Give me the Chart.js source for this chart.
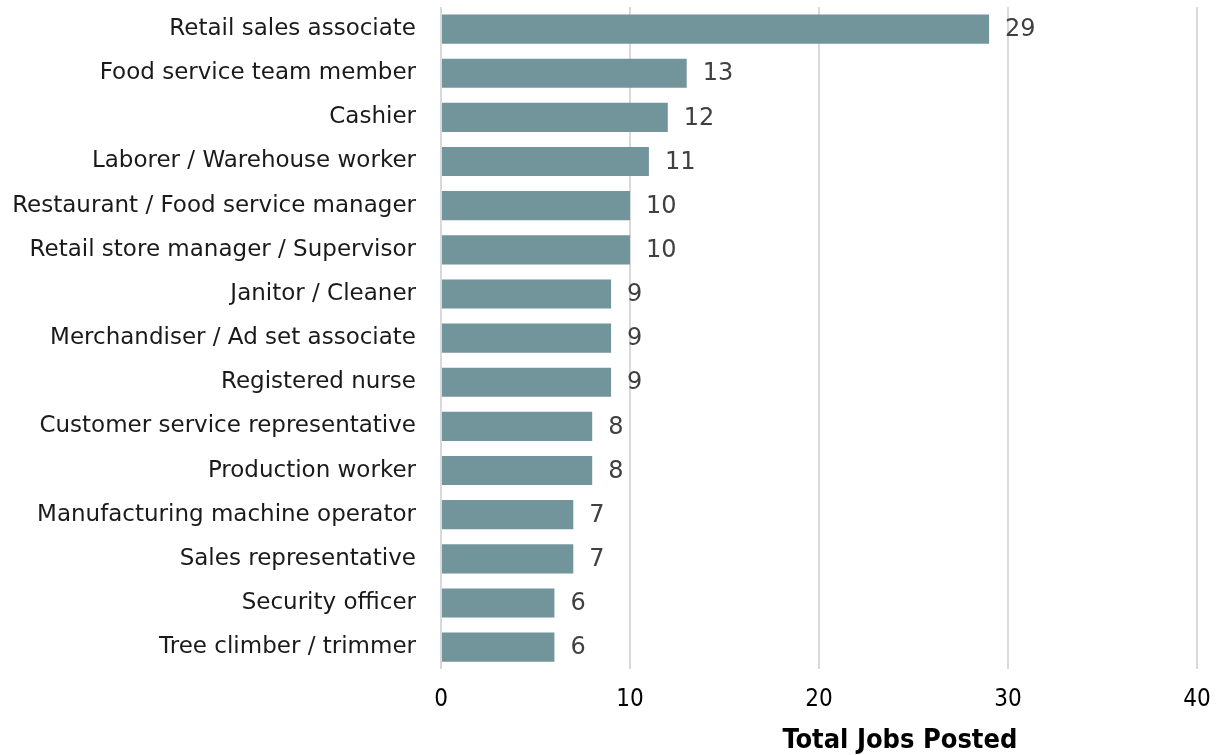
<!DOCTYPE html>
<html>
<head>
<meta charset="utf-8">
<script src="https://cdn.jsdelivr.net/npm/chart.js@4/dist/chart.umd.min.js"></script>
<style>
  html, body { margin: 0; padding: 0; background: #fff; }
  #wrap { width: 1220px; height: 755px; }
</style>
</head>
<body>
<div id="wrap"><canvas id="jobsChart" width="1220" height="755"></canvas></div>
<script>
const jobTitles = [
    'Retail sales associate',
    'Food service team member',
    'Cashier',
    'Laborer / Warehouse worker',
    'Restaurant / Food service manager',
    'Retail store manager / Supervisor',
    'Janitor / Cleaner',
    'Merchandiser / Ad set associate',
    'Registered nurse',
    'Customer service representative',
    'Production worker',
    'Manufacturing machine operator',
    'Sales representative',
    'Security officer',
    'Tree climber / trimmer'
];
const jobCounts = [29, 13, 12, 11, 10, 10, 9, 9, 9, 8, 8, 7, 7, 6, 6];
const xTicks = [0, 10, 20, 30, 40];
const axisTitle = 'Total Jobs Posted';

const labelFont = '"DejaVu Sans", "Liberation Sans", sans-serif';
const narrowFont = '"DejaVu Sans Condensed", "Liberation Sans", sans-serif';

// value labels just past the end of each bar
const valueLabels = {
    id: 'valueLabels',
    afterDatasetsDraw(chart) {
        const { ctx } = chart;
        const meta = chart.getDatasetMeta(0);
        ctx.save();
        ctx.font = '24px ' + labelFont;
        ctx.fillStyle = '#404040';
        ctx.textAlign = 'left';
        ctx.textBaseline = 'middle';
        meta.data.forEach((bar, i) => {
            ctx.fillText(String(jobCounts[i]), bar.x + 16, bar.y + 1);
        });
        ctx.restore();
    }
};

// axis title sits right of centre under the x ticks
const bottomTitle = {
    id: 'bottomTitle',
    afterDraw(chart) {
        const { ctx, chartArea } = chart;
        const x = chartArea.left + (chartArea.right - chartArea.left) * 0.607;
        ctx.save();
        ctx.font = 'bold 27px ' + narrowFont;
        ctx.fillStyle = '#000';
        ctx.textAlign = 'center';
        ctx.textBaseline = 'middle';
        ctx.fillText(axisTitle, x, 741);
        ctx.restore();
    }
};

new Chart(document.getElementById('jobsChart').getContext('2d'), {
    type: 'bar',
    data: {
        labels: jobTitles,
        datasets: [{
            data: jobCounts,
            backgroundColor: '#72949b',
            borderWidth: 0,
            categoryPercentage: 0.66,
            barPercentage: 1.0
        }]
    },
    options: {
        indexAxis: 'y',
        responsive: false,
        animation: false,
        layout: {
            autoPadding: false,
            padding: { left: 10, right: 23, top: 7, bottom: 25 }
        },
        plugins: {
            legend: { display: false },
            tooltip: { enabled: false }
        },
        scales: {
            x: {
                min: 0,
                max: 40,
                afterBuildTicks(scale) {
                    scale.ticks = xTicks.map(v => ({ value: v }));
                },
                afterFit(scale) {
                    scale.paddingLeft = 0;
                    scale.paddingRight = 0;
                },
                grid: {
                    color: '#d9d9d9',
                    lineWidth: 2,
                    drawTicks: false
                },
                border: { display: false },
                ticks: {
                    color: '#000',
                    padding: 16,
                    maxRotation: 0,
                    font: { family: narrowFont, size: 24 }
                }
            },
            y: {
                afterFit(scale) {
                    scale.width = 431;
                    scale.paddingTop = 0;
                    scale.paddingBottom = 0;
                },
                grid: { display: false },
                border: { display: false },
                ticks: {
                    color: '#1a1a1a',
                    padding: 17,
                    autoSkip: false,
                    font: { family: labelFont, size: 23 }
                }
            }
        }
    },
    plugins: [valueLabels, bottomTitle]
});
</script>
</body>
</html>
